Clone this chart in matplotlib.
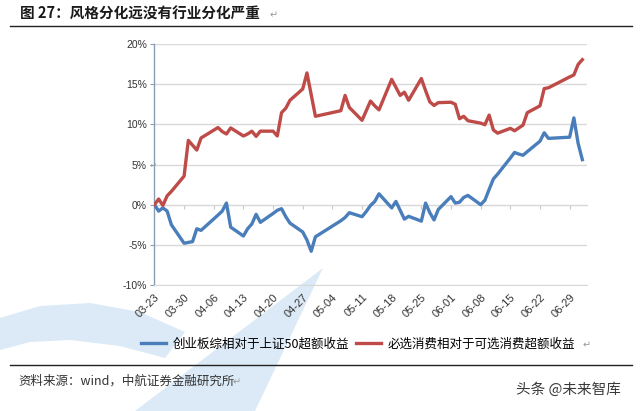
import pandas as pd
import matplotlib
matplotlib.use('Agg')
import matplotlib.pyplot as plt
from matplotlib.patches import Polygon

plt.rcParams['font.family'] = ['Noto Sans CJK SC', 'DejaVu Sans']

# 交易日 (2020)
dates = ['03-23', '03-24', '03-25', '03-26', '03-27',
         '03-30', '03-31', '04-01', '04-02', '04-03',
         '04-07', '04-08', '04-09', '04-10',
         '04-13', '04-14', '04-15', '04-16', '04-17',
         '04-20', '04-21', '04-22', '04-23', '04-24',
         '04-27', '04-28', '04-29', '04-30',
         '05-06', '05-07', '05-08',
         '05-11', '05-12', '05-13', '05-14', '05-15',
         '05-18', '05-19', '05-20', '05-21', '05-22',
         '05-25', '05-26', '05-27', '05-28', '05-29',
         '06-01', '06-02', '06-03', '06-04', '06-05',
         '06-08', '06-09', '06-10', '06-11', '06-12',
         '06-15', '06-16', '06-17', '06-18', '06-19',
         '06-22', '06-23', '06-24',
         '06-29', '06-30', '07-01', '07-02']

# 创业板综相对于上证50超额收益 (%)
gem_vs_sz50 = [0.0, -0.8, -0.4, -0.8, -2.5,
               -4.8, -4.7, -4.6, -3.0, -3.2,
               -1.3, -0.8, 0.2, -2.8,
               -3.9, -3.0, -2.4, -1.2, -2.2,
               -1.1, -0.7, -0.5, -1.5, -2.3,
               -3.4, -4.4, -5.8, -4.0,
               -2.0, -1.6, -1.0,
               -1.5, -0.85, -0.1, 0.4, 1.35,
               -0.4, 0.4, -0.7, -1.8, -1.45,
               -2.05, 0.2, -1.0, -1.9, -0.6,
               1.0, 0.2, 0.3, 0.9, 1.15,
               0.0, 0.55, 1.9, 3.2, 3.8,
               5.8, 6.5, 6.3, 6.15, 6.6,
               7.9, 8.95, 8.25,
               8.4, 10.8, 7.65, 5.6]

# 必选消费相对于可选消费超额收益 (%)
staples_vs_disc = [0.0, 0.7, -0.1, 1.1, 1.65,
                   3.55, 8.0, 7.4, 6.8, 8.3,
                   9.6, 9.1, 8.8, 9.55,
                   8.55, 8.8, 9.15, 8.5, 9.15,
                   9.15, 8.55, 11.45, 12.0, 13.0,
                   14.4, 16.4, 13.7, 11.0,
                   11.7, 13.6, 12.1,
                   10.5, 11.7, 12.9, 12.3, 11.8,
                   15.6, 14.6, 13.6, 14.0, 13.0,
                   15.7, 14.2, 12.8, 12.35, 12.7,
                   12.75, 12.5, 10.7, 11.0, 10.45,
                   10.15, 9.95, 11.15, 9.3, 8.9,
                   9.5, 9.2, 9.55, 9.9, 11.45,
                   12.3, 14.45, 14.55,
                   15.9, 16.15, 17.45, 18.05]

series_names = ['创业板综相对于上证50超额收益', '必选消费相对于可选消费超额收益']
tick_dates = ['03-23', '03-30', '04-06', '04-13', '04-20', '04-27', '05-04',
              '05-11', '05-18', '05-25', '06-01', '06-08', '06-15', '06-22', '06-29']
y_ticks = [-10, -5, 0, 5, 10, 15, 20]
y_labels = ['-10%', '-5%', '0%', '5%', '10%', '15%', '20%']

start = pd.Timestamp('2020-03-23')
x = (pd.to_datetime(['2020-' + d for d in dates]) - start).days
xt = (pd.to_datetime(['2020-' + d for d in tick_dates]) - start).days

W, H = 640, 411
fig = plt.figure(figsize=(W / 100, H / 100), dpi=100)


def px(xp, yp):
    return (xp / W, 1 - yp / H)


# 背景水印
wm = '#dbeaf6'
blade = [px(323, 268), px(255, 411), px(135, 411)]
band = [px(0, 318), px(40, 306), px(90, 303), px(140, 312), px(185, 332),
        px(165, 358), px(120, 346), px(70, 340), px(30, 342), px(0, 350)]
for pts in (blade, band):
    fig.patches.append(Polygon(pts, closed=True, transform=fig.transFigure,
                               facecolor=wm, edgecolor='none', zorder=-5))

ax = fig.add_axes([154 / W, 1 - 285 / H, 433 / W, 241 / H])
ax.set_facecolor('none')
ax.set_zorder(2)

blue, red = '#4a7ebb', '#be4b48'
ax.plot(x, gem_vs_sz50, color=blue, lw=2.4, solid_joinstyle='round',
        label=series_names[0], zorder=3)
ax.plot(x, staples_vs_disc, color=red, lw=2.4, solid_joinstyle='round',
        label=series_names[1], zorder=3)

ax.set_xlim(-0.1, 102.1)
ax.set_ylim(-10, 20)
ax.set_yticks(y_ticks)
ax.set_yticklabels(y_labels, family='Liberation Sans', fontsize=7.5, color='#333333')
ax.set_xticks(xt)
ax.set_xticklabels(tick_dates, family='Liberation Sans', fontsize=8, color='#333333',
                   rotation=45, ha='right', va='top', rotation_mode='anchor')
ax.tick_params(axis='x', length=0, pad=5)
ax.tick_params(axis='y', length=3, width=0.8, color='#8a9db5', pad=2)
ax.grid(axis='y', color='#d9d9d9', lw=1)
ax.set_axisbelow(True)
for s in ['top', 'right']:
    ax.spines[s].set_visible(False)
ax.spines['bottom'].set_color('#d9d9d9')
ax.spines['left'].set_color('#8a9db5')
ax.spines['left'].set_linewidth(1.0)

# 横轴刻度线在 0% 处
sec = ax.secondary_xaxis(1 / 3)
sec.set_xticks(xt)
sec.set_xticklabels([])
sec.tick_params(length=3, color='#c8c8c8', width=0.8)
sec.spines['bottom'].set_color('#d0d0d0')
sec.spines['top'].set_color('#d0d0d0')

fig.legend(loc='center', bbox_to_anchor=px(358, 344), ncol=2, frameon=False,
           fontsize=9, handlelength=2.0, handletextpad=0.5, columnspacing=0.6)

# 标题、分隔线、来源
fig.text(20 / W, 1 - 14 / H, '图 27：风格分化远没有行业分化严重', fontsize=10.5,
         weight='bold', color='#1a1a1a', va='center', ha='left')
fig.text(270 / W, 1 - 15 / H, '↵', fontsize=7, color='#999999', va='center')
fig.add_artist(plt.Line2D([10 / W, 632 / W], [1 - 26.5 / H, 1 - 26.5 / H],
                          color='#222222', lw=1.0))
fig.add_artist(plt.Line2D([10 / W, 632 / W], [1 - 365 / H, 1 - 365 / H],
                          color='#222222', lw=1.0))
fig.text(18 / W, 1 - 381 / H, '资料来源：wind，中航证券金融研究所', fontsize=9,
         color='#333333', va='center', ha='left')
fig.text(233 / W, 1 - 382 / H, '↵', fontsize=7, color='#999999', va='center')
fig.text(583 / W, 1 - 345 / H, '↵', fontsize=7, color='#999999', va='center')
fig.text(153 / W, 1 - 165 / H, '↵', fontsize=6, color='#999999', va='center', ha='center')
fig.text(516 / W, 1 - 390 / H, '头条 @未来智库', fontsize=10.5, color='#3a3a3a',
         va='center', ha='left')

fig.savefig('out.png', dpi=100)
